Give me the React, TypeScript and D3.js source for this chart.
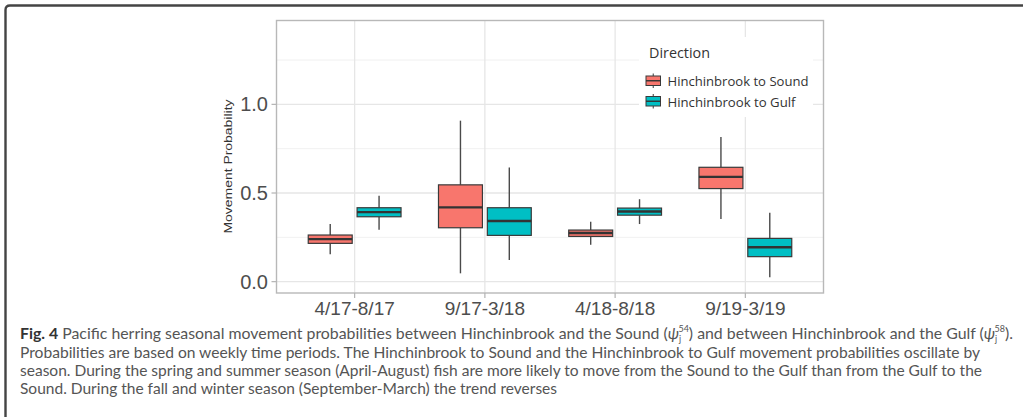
import React from "react";
import * as d3 from "d3";

// Seasonal periods on the x axis
const periods = ["4/17-8/17", "9/17-3/18", "4/18-8/18", "9/19-3/19"];
const directions = ["Hinchinbrook to Sound", "Hinchinbrook to Gulf"];
const directionColors = ["#F8766D", "#00BFC4"];

// Five-number summaries per period: [lower whisker, Q1, median, Q3, upper whisker]
const soundBoxes: number[][] = [
  [0.154, 0.216, 0.24, 0.263, 0.325],
  [0.047, 0.304, 0.419, 0.546, 0.908],
  [0.208, 0.255, 0.274, 0.291, 0.338],
  [0.353, 0.525, 0.591, 0.645, 0.816],
];
const gulfBoxes: number[][] = [
  [0.293, 0.366, 0.392, 0.417, 0.484],
  [0.122, 0.261, 0.342, 0.417, 0.644],
  [0.325, 0.375, 0.396, 0.415, 0.465],
  [0.025, 0.141, 0.194, 0.244, 0.388],
];

const yMajorTicks = [0, 0.5, 1.0];
const yMinorTicks = [0.25, 0.75, 1.25];
const yDomain = [-0.064, 1.473];

const captionLines = [
  "Probabilities are based on weekly time periods. The Hinchinbrook to Sound and the Hinchinbrook to Gulf movement probabilities oscillate by",
  "season. During the spring and summer season (April-August) fish are more likely to move from the Sound to the Gulf than from the Gulf to the",
  "Sound. During the fall and winter season (September-March) the trend reverses",
];

const W = 1023;
const H = 417;
const panel = { left: 276.5, right: 823.5, top: 20.5, bottom: 293 };

export default function App() {
  const x = d3
    .scaleBand<string>()
    .domain(periods)
    .range([panel.left, panel.right])
    .paddingInner(0)
    .paddingOuter(0.1);
  const y = d3.scaleLinear().domain(yDomain).range([panel.bottom, panel.top]);
  const step = x.step();
  const boxW = step * 0.3375;
  const offs = [-0.1875 * step, 0.1875 * step];
  const cx = (p: string) => (x(p) as number) + step / 2;

  const series = [soundBoxes, gulfBoxes];
  const tickFont = "'Liberation Sans', Arial, sans-serif";
  const capFont = "Lato, 'Open Sans', sans-serif";
  const legFont = "'Open Sans', 'Noto Sans', sans-serif";
  const capWidths = [960, 962, 537];

  return (
    <svg
      width={W}
      height={H}
      style={{ position: "absolute", left: 0, top: 0, background: "#fff" }}
    >
      {/* outer figure frame */}
      <path
        d={`M${W + 10},5.5 L10,5.5 Q5.5,5.5 5.5,10 L5.5,${H + 10}`}
        fill="none"
        stroke="#444"
        strokeWidth={2.4}
      />

      {/* panel background */}
      <rect
        x={panel.left}
        y={panel.top}
        width={panel.right - panel.left}
        height={panel.bottom - panel.top}
        fill="#fff"
      />
      {/* grid */}
      {yMinorTicks.map((t) => (
        <line
          key={"mn" + t}
          x1={panel.left}
          x2={panel.right}
          y1={y(t)}
          y2={y(t)}
          stroke="#f1f1f1"
          strokeWidth={1}
        />
      ))}
      {yMajorTicks.map((t) => (
        <line
          key={"mj" + t}
          x1={panel.left}
          x2={panel.right}
          y1={y(t)}
          y2={y(t)}
          stroke="#e6e6e6"
          strokeWidth={1.3}
        />
      ))}
      {periods.map((p) => (
        <line
          key={"vg" + p}
          x1={cx(p)}
          x2={cx(p)}
          y1={panel.top}
          y2={panel.bottom}
          stroke="#e6e6e6"
          strokeWidth={1.3}
        />
      ))}

      {/* legend background */}
      <rect x={639} y={37} width={174} height={80} fill="#fff" />

      {/* boxes */}
      {series.map((boxes, si) =>
        boxes.map((b, i) => {
          const c = cx(periods[i]) + offs[si];
          const [lo, q1, med, q3, hi] = b;
          return (
            <g key={si + "-" + i}>
              <line x1={c} x2={c} y1={y(hi)} y2={y(q3)} stroke="#4a4a4a" strokeWidth={1.4} />
              <line x1={c} x2={c} y1={y(q1)} y2={y(lo)} stroke="#4a4a4a" strokeWidth={1.4} />
              <rect
                x={c - boxW / 2}
                y={y(q3)}
                width={boxW}
                height={y(q1) - y(q3)}
                fill={directionColors[si]}
                stroke="#3a3a3a"
                strokeWidth={1.2}
              />
              <line
                x1={c - boxW / 2}
                x2={c + boxW / 2}
                y1={y(med)}
                y2={y(med)}
                stroke="#333"
                strokeWidth={2.4}
              />
            </g>
          );
        })
      )}

      {/* panel border */}
      <rect
        x={panel.left}
        y={panel.top}
        width={panel.right - panel.left}
        height={panel.bottom - panel.top}
        fill="none"
        stroke="#b8b8b8"
        strokeWidth={1.4}
      />

      {/* y axis */}
      {yMajorTicks.map((t) => (
        <g key={"yt" + t}>
          <line x1={panel.left - 5} x2={panel.left} y1={y(t)} y2={y(t)} stroke="#b3b3b3" strokeWidth={1.2} />
          <text
            x={268}
            y={y(t) + 7}
            textAnchor="end"
            fontFamily={tickFont}
            fontSize={20}
            fill="#4d4d4d"
          >
            {d3.format(".1f")(t)}
          </text>
        </g>
      ))}
      <text
        transform="translate(232,166.5) rotate(-90)"
        textAnchor="middle"
        fontFamily={tickFont}
        fontSize={11.5}
        fill="#333"
        textLength={134}
        lengthAdjust="spacingAndGlyphs"
      >
        Movement Probability
      </text>

      {/* x axis */}
      {periods.map((p) => (
        <g key={"xt" + p}>
          <line x1={cx(p)} x2={cx(p)} y1={panel.bottom} y2={panel.bottom + 5} stroke="#b3b3b3" strokeWidth={1.2} />
          <text
            x={cx(p)}
            y={315}
            textAnchor="middle"
            fontFamily={tickFont}
            fontSize={19}
            fill="#4d4d4d"
          >
            {p}
          </text>
        </g>
      ))}

      {/* legend */}
      <text x={649} y={58} fontFamily={legFont} fontSize={14} fill="#333" textLength={61} lengthAdjust="spacingAndGlyphs">
        Direction
      </text>
      {directions.map((d, i) => {
        const ky = 73.5 + i * 20.5;
        const kx = 646;
        const kw = 14.5;
        const kh = 14.5;
        return (
          <g key={"lg" + d}>
            <line x1={kx + kw / 2} x2={kx + kw / 2} y1={ky} y2={ky + kh} stroke="#4a4a4a" strokeWidth={1.1} />
            <rect
              x={kx}
              y={ky + 2.5}
              width={kw}
              height={kh - 5}
              fill={directionColors[i]}
              stroke="#3a3a3a"
              strokeWidth={1}
            />
            <line x1={kx} x2={kx + kw} y1={ky + kh / 2} y2={ky + kh / 2} stroke="#333" strokeWidth={1.4} />
            <text
              x={667.5}
              y={ky + 12.5}
              fontFamily={legFont}
              fontSize={13}
              fill="#333"
              textLength={i === 0 ? 141 : 128}
              lengthAdjust="spacingAndGlyphs"
            >
              {d}
            </text>
          </g>
        );
      })}

      {/* caption */}
      <text x={20} y={339} fontFamily={capFont} fontSize={15} fill="#555" textLength={993} lengthAdjust="spacingAndGlyphs">
        <tspan fontWeight={700} fill="#333">Fig. 4</tspan>
        <tspan> Pacific herring seasonal movement probabilities between Hinchinbrook and the Sound (</tspan>
        <tspan fontStyle="italic">ψ</tspan>
        <tspan fontSize={8.5} dy={2.5}>j</tspan>
        <tspan fontSize={8.5} dx={-2.5} dy={-9.5}>54</tspan>
        <tspan dy={7}>) and between Hinchinbrook and the Gulf (</tspan>
        <tspan fontStyle="italic">ψ</tspan>
        <tspan fontSize={8.5} dy={2.5}>j</tspan>
        <tspan fontSize={8.5} dx={-2.5} dy={-9.5}>58</tspan>
        <tspan dy={7}>).</tspan>
      </text>
      {captionLines.map((l, i) => (
        <text
          key={"cap" + i}
          x={20}
          y={357.5 + i * 18.4}
          fontFamily={capFont}
          fontSize={15}
          fill="#555"
          textLength={capWidths[i]}
          lengthAdjust="spacingAndGlyphs"
        >
          {l}
        </text>
      ))}
    </svg>
  );
}
